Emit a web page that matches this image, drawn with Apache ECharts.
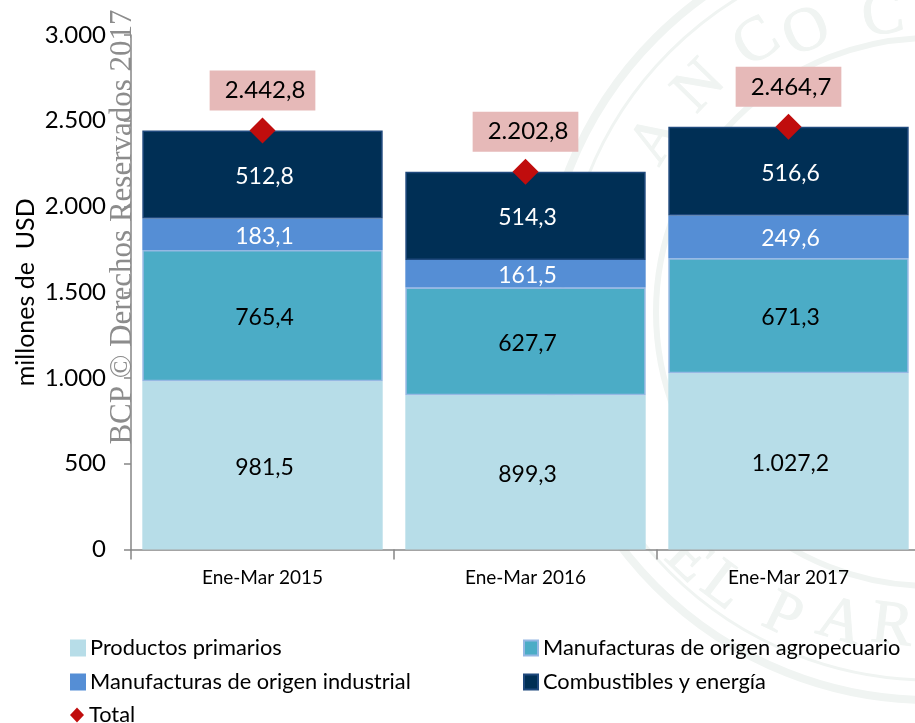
<!DOCTYPE html>
<html>
<head>
<meta charset="utf-8">
<style>html,body{margin:0;padding:0;background:#fff;overflow:hidden}#c{width:915px;height:723px}</style>
<script src="https://cdn.jsdelivr.net/npm/echarts@6/dist/echarts.min.js"></script>
</head>
<body>
<div id="c"></div>
<script>
const categories = ['Ene-Mar 2015', 'Ene-Mar 2016', 'Ene-Mar 2017'];
const primarios = [981.5, 899.3, 1027.2];
const agropecuario = [765.4, 627.7, 671.3];
const industrial = [183.1, 161.5, 249.6];
const combustibles = [512.8, 514.3, 516.6];
const totales = [2442.8, 2202.8, 2464.7];
const yTicks = { min: 0, max: 3000, interval: 500 };

const FONT = 'Lato';
const fmt = (v) => {
  const s = Number(v).toFixed(1).replace('.', ',');
  return s.replace(/^(\d+)(\d{3}),/, '$1.$2,');
};
const fmtTick = (v) => String(v).replace(/^(\d+)(\d{3})$/, '$1.$2');

function barSeries(name, data, color, border, textColor) {
  return {
    name, type: 'bar', stack: 'a', data, barWidth: '91.4%',
    itemStyle: { color, borderColor: border, borderWidth: 1.5 },
    label: { show: true, position: 'inside', offset: [2, 2], color: textColor, fontFamily: FONT, fontSize: 23, formatter: (p) => fmt(p.value) }
  };
}

const SEAL = '#f0f4f2';
const sealCx = 930, sealCy = 312;
const sealLetters = [
  ['A', 657, 140, 1], ['N', 700, 87, 1], ['C', 757, 43, 1], ['O', 807, 33, 1], ['C', 883, 17, 1],
  ['E', 688, 560, -1], ['L', 723, 587, -1], ['P', 782, 617, -1], ['A', 840, 623, -1], ['R', 892, 627, -1]
];
const sealGraphics = [
  { type: 'circle', z: 0, silent: true, shape: { cx: sealCx, cy: sealCy, r: 388 }, style: { fill: 'none', stroke: SEAL, lineWidth: 8 } },
  { type: 'circle', z: 0, silent: true, shape: { cx: sealCx, cy: sealCy, r: 368 }, style: { fill: 'none', stroke: SEAL, lineWidth: 3 } },
  { type: 'circle', z: 0, silent: true, shape: { cx: sealCx, cy: sealCy, r: 274 }, style: { fill: 'none', stroke: SEAL, lineWidth: 6 } }
].concat(sealLetters.map(([t, x, y, dir]) => {
  const ang = Math.atan2(y - sealCy, x - sealCx);
  const rot = dir > 0 ? -(ang + Math.PI / 2) : -(ang - Math.PI / 2);
  return {
    type: 'text', z: 0, silent: true, x, y, rotation: rot,
    style: { text: t, fill: SEAL, stroke: SEAL, lineWidth: 1, font: '62px "Liberation Serif"', align: 'center', verticalAlign: 'middle' }
  };
}));

const legendBase = { orient: 'horizontal', padding: 0, icon: 'rect', itemWidth: 14, itemHeight: 15, textStyle: { fontFamily: FONT, fontSize: 21.8, color: '#000' } };
const chart = echarts.init(document.getElementById('c'), null, { renderer: 'canvas' });
chart.setOption({
  animation: false,
  backgroundColor: '#fff',
  grid: { left: 131, width: 789, top: 35, height: 514.5, containLabel: false, outerBoundsMode: 'none' },
  legend: [
    Object.assign({}, legendBase, { left: 70, top: 637, data: ['Productos primarios'] }),
    Object.assign({}, legendBase, { left: 523, top: 637, data: ['Manufacturas de origen agropecuario'] }),
    Object.assign({}, legendBase, { left: 70, top: 671, data: ['Manufacturas de origen industrial'] }),
    Object.assign({}, legendBase, { left: 523, top: 671, data: ['Combustibles y energía'] }),
    Object.assign({}, legendBase, { left: 70, top: 704, data: [{ name: 'Total', icon: 'diamond' }] })
  ],
  xAxis: {
    type: 'category', data: categories,
    axisLine: { lineStyle: { color: '#868686', width: 1.5 } },
    axisTick: { show: true, length: 10, alignWithLabel: false, lineStyle: { color: '#868686', width: 1.5 } },
    axisLabel: { color: '#000', fontFamily: FONT, fontSize: 19, margin: 19 }
  },
  yAxis: {
    type: 'value', min: yTicks.min, max: yTicks.max, interval: yTicks.interval,
    name: 'millones de  USD', nameLocation: 'middle', nameGap: 93, nameRotate: 90, nameMoveOverlap: false,
    nameTextStyle: { color: '#000', fontFamily: FONT, fontSize: 25 },
    splitLine: { show: false },
    axisLine: { show: true, lineStyle: { color: '#868686', width: 1.5 } },
    axisTick: { show: true, length: 7, lineStyle: { color: '#868686', width: 1.5 } },
    axisLabel: { color: '#000', fontFamily: FONT, fontSize: 24, margin: 25, formatter: fmtTick }
  },
  series: [
    barSeries('Productos primarios', primarios, '#b7dde8', '#b7dde8', '#000'),
    barSeries('Manufacturas de origen agropecuario', agropecuario, '#4bacc6', '#95b8e3', '#000'),
    barSeries('Manufacturas de origen industrial', industrial, '#558ed5', '#558ed5', '#fff'),
    barSeries('Combustibles y energía', combustibles, '#002f55', '#1f497d', '#fff'),
    {
      name: 'Total', type: 'scatter', data: totales, symbol: 'diamond', symbolSize: 26, z: 5,
      itemStyle: { color: '#c00d0d', opacity: 1 },
      label: {
        show: true, position: 'top', distance: 7, color: '#000', fontFamily: FONT, fontSize: 24,
        backgroundColor: '#e6b9b8', padding: [8, 10, 8, 15], formatter: (p) => fmt(p.value)
      }
    }
  ],
  graphic: sealGraphics.concat([{
    type: 'text', z: 10, silent: true, x: 123, y: 227, rotation: Math.PI / 2,
    style: { text: 'BCP © Derechos Reservados 2017', fill: '#8c8c8c', font: '31px "Liberation Serif"', align: 'center', verticalAlign: 'middle' }
  }])
});
</script>
</body>
</html>
